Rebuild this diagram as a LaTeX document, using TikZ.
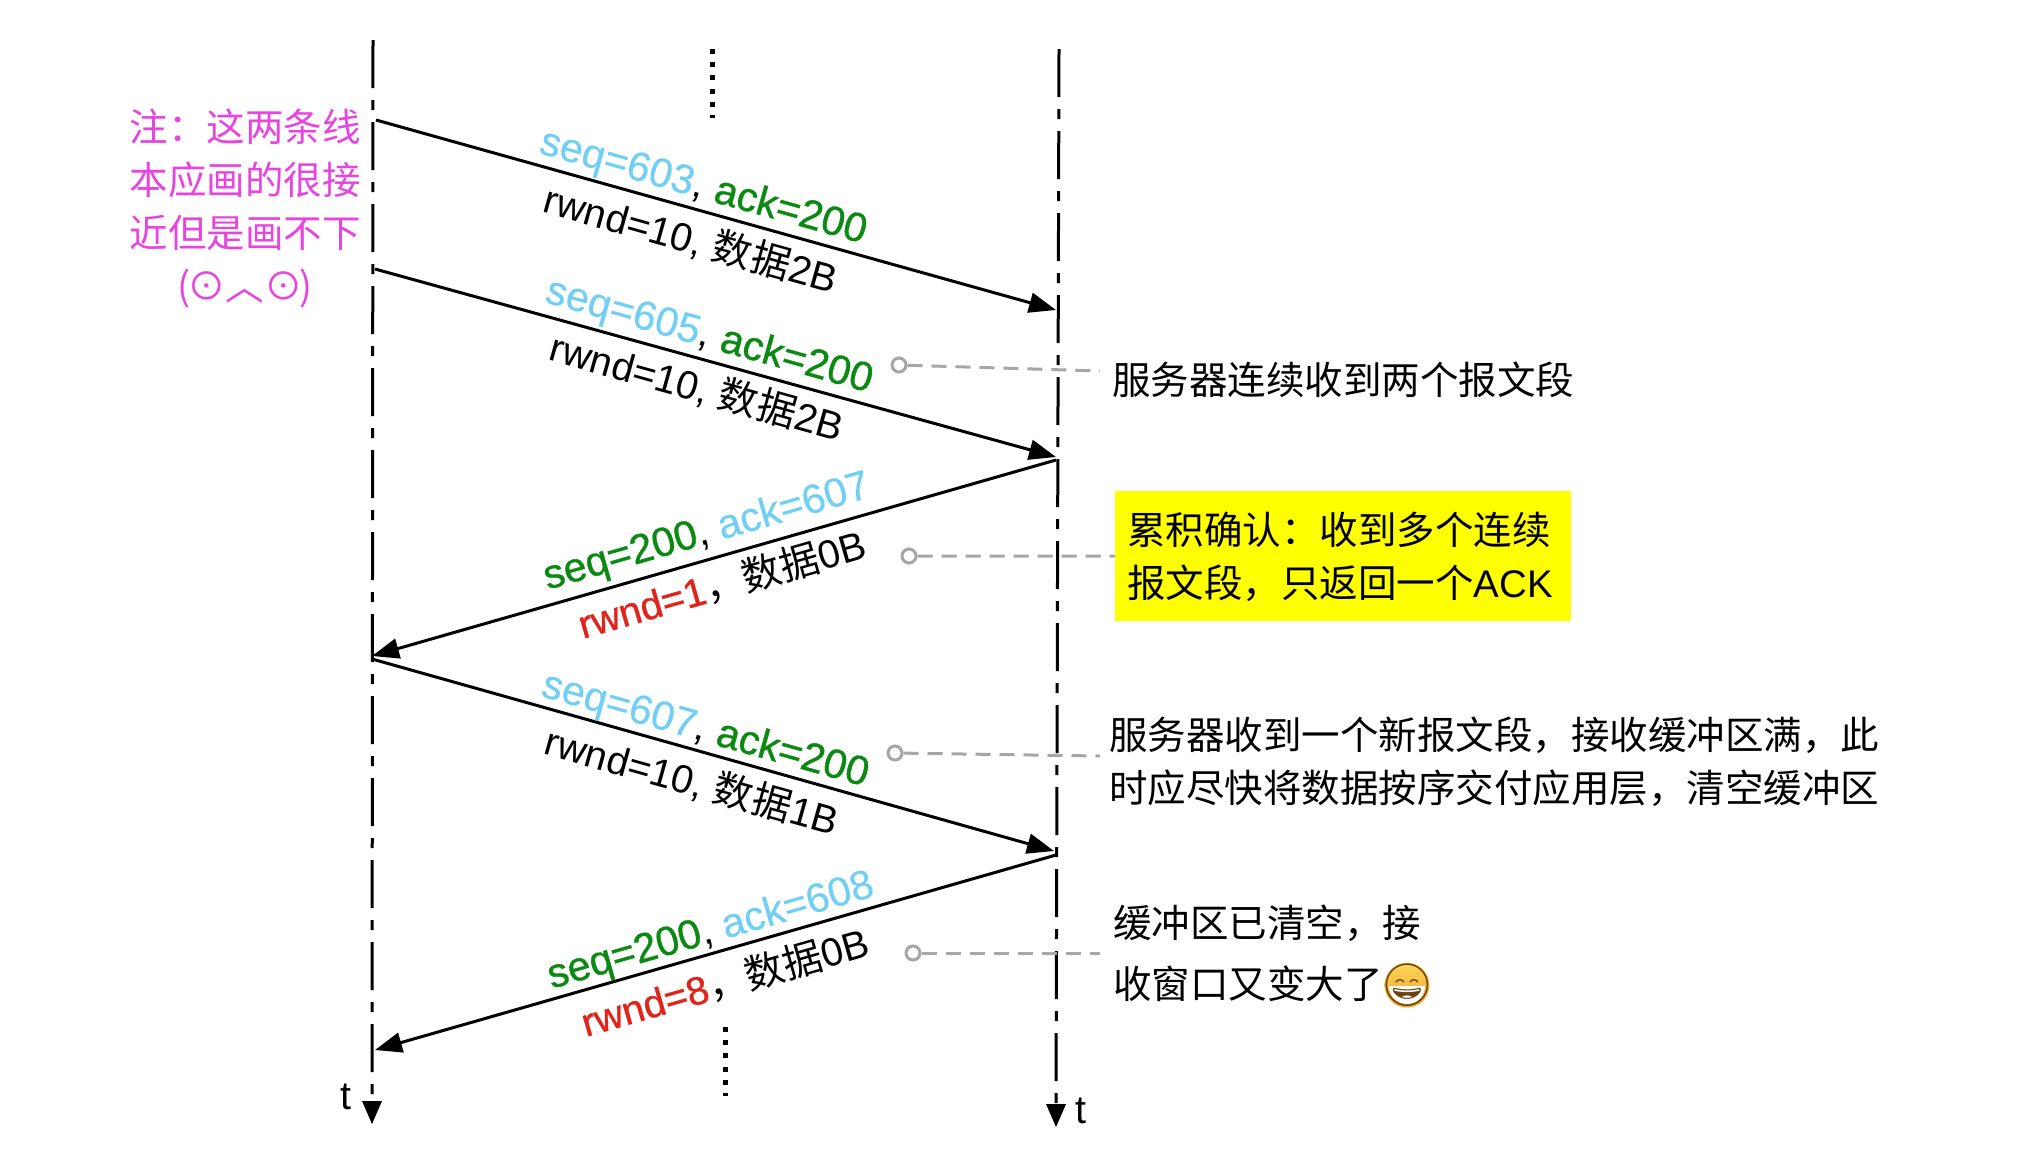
\documentclass[tikz,border=0pt]{standalone}
\usepackage{fontspec}
\setmainfont{Liberation Sans}
\newfontfamily\cjk{Noto Sans CJK SC}
\newfontfamily\emojifont{Noto Emoji}
\newfontfamily\semibold[FakeBold=0.9]{Liberation Sans}
\newfontfamily\softbold[FakeBold=0.25]{Liberation Sans}
\usetikzlibrary{arrows.meta}
\definecolor{seqblue}{HTML}{6FCFF5}
\definecolor{okgreen}{HTML}{0B8A12}
\definecolor{warnred}{HTML}{E2231A}
\definecolor{notepink}{HTML}{E845E0}
\definecolor{hintgray}{HTML}{A6A6A6}
\definecolor{boxyellow}{HTML}{FFFF00}
\definecolor{smiletop}{HTML}{FBD75B}
\definecolor{smilebot}{HTML}{F2A128}
\definecolor{smileink}{HTML}{6B4310}
\tikzset{
  lifeline/.style={line width=3pt,dash pattern=on 48pt off 12pt on 10pt off 12pt},
  timetip/.style={draw=none,fill=black},
  msg/.style={line width=3pt,-{Triangle[length=27pt,width=20pt]}},
  seglabel/.style={inner sep=0pt,font=\fontsize{39.5}{46}\selectfont},
  toplabel/.style={inner sep=0pt,font=\fontsize{41}{46}\selectfont},
  note/.style={inner sep=0pt,align=left,font=\cjk\fontsize{38.5}{53}\selectfont},
  callout/.style={line width=3pt,draw=hintgray,dash pattern=on 15pt off 9pt},
  hole/.style={circle,draw=hintgray,line width=3pt,fill=white,minimum size=14pt,inner sep=0pt},
  dotcol/.style={line width=5pt,dash pattern=on 5pt off 8.2pt},
}
\newcommand{\sq}[1]{{\softbold\textcolor{seqblue}{#1}}}
\newcommand{\gr}[1]{{\semibold\textcolor{okgreen}{#1}}}
\newcommand{\rd}[1]{{\semibold\textcolor{warnred}{#1}}}
\begin{document}
\begin{tikzpicture}[x=1pt,y=-1pt]
\useasboundingbox[fill=white] (0,0) rectangle (2025,1168);
% lifelines
\coordinate (Ltop) at (373,40);
\coordinate (Lend) at (372,1124);
\coordinate (Rtop) at (1059,49);
\coordinate (Rend) at (1056,1127);
\draw[lifeline] (Ltop) -- (372,1103);
\draw[lifeline] (Rtop) -- (1056,1106);
\fill[timetip] (Lend) -- (362,1101) -- (382,1101) -- cycle;
\fill[timetip] (Rend) -- (1046,1104) -- (1066,1104) -- cycle;
\node[seglabel] (tL) at (346,1097) {t};
\node[seglabel] (tR) at (1081,1111) {t};
% message end points
\coordinate (a1) at (376,120);  \coordinate (b1) at (1056,310);
\coordinate (a2) at (375,269);  \coordinate (b2) at (1056,457);
\coordinate (b3) at (1056,460); \coordinate (a3) at (372,656);
\coordinate (a4) at (372,659);  \coordinate (b4) at (1054,851);
\coordinate (b5) at (1056,855); \coordinate (a5) at (375,1050);
\draw[msg] (a1) -- (b1);
\draw[msg] (a2) -- (b2);
\draw[msg] (b3) -- (a3);
\draw[msg] (a4) -- (b4);
\draw[msg] (b5) -- (a5);
% ellipsis columns
\coordinate (dt1) at (712,49); \coordinate (dt2) at (712,118);
\coordinate (db1) at (725,1027); \coordinate (db2) at (725,1096);
\draw[dotcol] (dt1) -- (dt2);
\draw[dotcol] (db1) -- (db2);
% message labels
\node[toplabel,rotate=-15.6] (m1t) at (703,188) {\sq{seq=603}, \gr{ack=200}};
\node[seglabel,rotate=-15.6] (m1b) at (691,239) {rwnd=10, {\cjk 数据}2B};
\node[toplabel,rotate=-15.6] (m2t) at (709,337) {\sq{seq=605}, \gr{ack=200}};
\node[seglabel,rotate=-15.6] (m2b) at (697,387) {rwnd=10, {\cjk 数据}2B};
\node[toplabel,rotate=16] (m3t) at (707,533) {\gr{seq=200}, \sq{ack=607}};
\node[seglabel,rotate=16] (m3b) at (722,584) {\rd{rwnd=1}{\cjk ，}{\cjk 数据}0B};
\node[toplabel,rotate=-15.6] (m4t) at (705,731) {\sq{seq=607}, \gr{ack=200}};
\node[seglabel,rotate=-15.6] (m4b) at (692,781) {rwnd=10, {\cjk 数据}1B};
\node[toplabel,rotate=16] (m5t) at (711,932) {\gr{seq=200}, \sq{ack=608}};
\node[seglabel,rotate=16] (m5b) at (725,982) {\rd{rwnd=8}{\cjk ，}{\cjk 数据}0B};
% side note
\node[note,align=center,text=notepink] (side) at (245,208) {注：这两条线\\本应画的很接\\近但是画不下\\(\kern-3pt⊙︿⊙\kern-3pt)};
% annotations
\node[note,anchor=west] (n1) at (1112,380) {服务器连续收到两个报文段};
\node[fill=boxyellow,minimum width=456pt,minimum height=130pt,inner sep=0pt,anchor=north west] (ybox) at (1115,491) {};
\node[note,anchor=west] (n2) at (1127,557) {累积确认：收到多个连续\\报文段，只返回一个{\rmfamily ACK}};
\node[note,anchor=west] (n3) at (1109,762) {服务器收到一个新报文段，接收缓冲区满，此\\时应尽快将数据按序交付应用层，清空缓冲区};
\node[note,anchor=west,font=\cjk\fontsize{38.5}{61}\selectfont] (n4) at (1113,953) {缓冲区已清空，接\\收窗口又变大了};
% emoji
\node[circle,top color=smiletop,bottom color=smilebot,minimum size=45pt,inner sep=0pt] (emo) at (1407,985) {};
\fill[white] (1389,986) -- (1425,986) arc[start angle=0,end angle=-180,radius=18pt] -- cycle;
\node[inner sep=0pt,text=smileink,font=\emojifont\fontsize{42}{42}\selectfont] (emoglyph) at (1407,985) {😄};
% callouts
\node[hole] (h1) at (899,365) {};
\coordinate (e1) at (1100,371);
\node[hole] (h2) at (909,556) {};
\node[hole] (h3) at (895,753) {};
\coordinate (e3) at (1100,756);
\node[hole] (h4) at (913,953) {};
\coordinate (e4) at (1100,953);
\draw[callout] (h1) -- (e1);
\draw[callout] (h2) -- (ybox.west);
\draw[callout] (h3) -- (e3);
\draw[callout] (h4) -- (e4);
\end{tikzpicture}
\end{document}
